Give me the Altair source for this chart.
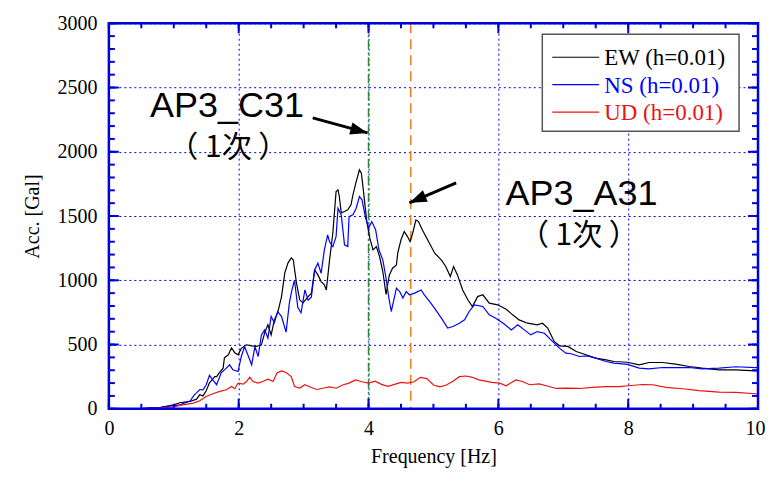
import altair as alt
import pandas as pd

# ---------------- data ----------------
ew_f = [0.45, 0.6, 0.8, 1.0, 1.09, 1.25, 1.35, 1.4, 1.45, 1.5, 1.55, 1.6, 1.63, 1.66, 1.7, 1.76, 1.78, 1.84,
        1.89, 1.94, 1.99, 2.04, 2.12, 2.2, 2.27, 2.35, 2.4, 2.45, 2.5, 2.55, 2.6, 2.66, 2.71, 2.76, 2.81, 2.84,
        2.89, 2.94, 2.99, 3.07, 3.12, 3.17, 3.22, 3.27, 3.32, 3.35, 3.4, 3.45, 3.5, 3.53, 3.55, 3.58, 3.63, 3.68,
        3.73, 3.76, 3.81, 3.86, 3.89, 3.92, 3.97, 4.02, 4.07, 4.12, 4.17, 4.22, 4.27, 4.32, 4.37, 4.43, 4.45,
        4.5, 4.55, 4.6, 4.64, 4.68, 4.73, 4.77, 4.83, 4.91, 5.02, 5.12, 5.19, 5.26, 5.31, 5.37, 5.45, 5.53,
        5.6, 5.68, 5.76, 5.86, 5.99, 6.12, 6.22, 6.32, 6.45, 6.6, 6.68, 6.76, 6.86, 6.94, 7.07, 7.2, 7.35, 7.5,
        7.66, 7.78, 7.99, 8.17, 8.32, 8.53, 8.73, 8.94, 9.14, 9.4, 9.66, 9.96, 10.0]
ew_a = [0, 5, 12, 30, 47, 57, 75, 109, 100, 140, 202, 230, 251, 250, 280, 316, 397, 420,
        474, 435, 420, 470, 498, 490, 485, 498, 591, 653, 575, 692, 747, 873, 1058, 1136, 1174, 1160,
        980, 848, 824, 873, 900, 1081, 1042, 990, 964, 925, 1159, 1366, 1690, 1704, 1652, 1525, 1535, 1548,
        1587, 1665, 1768, 1859, 1833, 1704, 1470, 1328, 1237, 1262, 1185, 1068, 890, 1040, 1094, 1120, 1211,
        1315, 1379, 1340, 1301, 1366, 1470, 1457, 1392, 1315, 1211, 1159, 1107, 1029, 1107, 1042, 925, 848,
        796, 873, 887, 822, 809, 775, 731, 692, 666, 653, 666, 628, 524, 490, 485, 446, 420, 394,
        381, 368, 362, 342, 360, 360, 347, 329, 316, 303, 303, 295, 295]

ns_f = [0.45, 0.6, 0.8, 1.0, 1.09, 1.25, 1.32, 1.35, 1.4, 1.45, 1.5, 1.55, 1.6, 1.66, 1.73, 1.81, 1.86, 1.91,
        1.99, 2.04, 2.09, 2.14, 2.2, 2.25, 2.3, 2.35, 2.4, 2.45, 2.5, 2.55, 2.6, 2.66, 2.73, 2.78, 2.82, 2.86,
        2.91, 2.96, 3.02, 3.07, 3.12, 3.17, 3.22, 3.27, 3.32, 3.37, 3.4, 3.45, 3.5, 3.53, 3.58, 3.63, 3.68,
        3.7, 3.76, 3.81, 3.86, 3.9, 3.95, 4.0, 4.05, 4.11, 4.16, 4.22, 4.27, 4.31, 4.35, 4.39, 4.43, 4.48,
        4.53, 4.58, 4.63, 4.71, 4.81, 4.86, 4.96, 5.07, 5.14, 5.22, 5.3, 5.4, 5.48, 5.55, 5.63, 5.76, 5.86,
        5.96, 6.09, 6.2, 6.3, 6.4, 6.5, 6.6, 6.71, 6.81, 6.94, 7.04, 7.12, 7.25, 7.37, 7.5, 7.66, 7.78, 7.99,
        8.17, 8.32, 8.53, 8.73, 8.94, 9.14, 9.4, 9.66, 9.96, 10.0]
ns_a = [0, 5, 12, 25, 30, 60, 110, 124, 150, 148, 187, 260, 225, 187, 280, 316, 342, 303,
        290, 407, 484, 420, 342, 484, 407, 575, 614, 550, 718, 670, 757, 718, 596, 822, 925, 1000,
        790, 747, 925, 845, 870, 1081, 1133, 1055, 1237, 1354, 1300, 1262, 1340, 1561, 1509, 1276, 1262,
        1496, 1509, 1561, 1652, 1626, 1496, 1405, 1457, 1392, 1237, 1159, 1016, 873, 757, 848, 939, 912,
        861, 912, 887, 900, 925, 887, 822, 744, 692, 628, 640, 666, 692, 757, 809, 796, 731,
        705, 660, 614, 653, 614, 575, 601, 588, 536, 472, 433, 428, 407, 412, 394, 368, 355, 345,
        316, 311, 321, 321, 321, 311, 316, 327, 321, 321]

ud_f = [0.5, 0.8, 1.0, 1.09, 1.3, 1.4, 1.5, 1.6, 1.71, 1.81, 1.89, 1.94, 1.99, 2.07, 2.12, 2.17, 2.22, 2.3,
        2.37, 2.45, 2.53, 2.59, 2.66, 2.73, 2.81, 2.86, 2.94, 3.02, 3.1, 3.2, 3.3, 3.4, 3.5, 3.6, 3.7, 3.8,
        3.9, 4.0, 4.1, 4.2, 4.3, 4.4, 4.5, 4.6, 4.7, 4.8, 4.9, 5.0, 5.1, 5.2, 5.3, 5.4, 5.5, 5.6, 5.7, 5.8,
        5.9, 6.02, 6.12, 6.27, 6.37, 6.48, 6.63, 6.78, 6.89, 7.04, 7.25, 7.45, 7.66, 7.86, 8.0, 8.22, 8.38,
        8.58, 8.84, 9.09, 9.4, 9.66, 9.96, 10.0]
ud_a = [0, 5, 15, 26, 44, 62, 96, 117, 135, 148, 173, 156, 200, 192, 212, 246, 212, 200,
        212, 231, 212, 278, 295, 282, 251, 173, 161, 187, 170, 150, 160, 170, 160, 185, 200, 225,
        210, 200, 215, 190, 175, 190, 205, 200, 210, 245, 235, 185, 170, 185, 215, 250, 255, 245, 225, 215,
        205, 200, 179, 225, 212, 187, 194, 173, 158, 161, 158, 166, 173, 173, 179, 189, 187,
        166, 156, 142, 130, 127, 117, 117]

series_names = ["EW (h=0.01)", "NS (h=0.01)", "UD (h=0.01)"]
series_colors = ["#000000", "#0000ff", "#ee1111"]

x_major = [0, 2, 4, 6, 8, 10]
x_minor = [0.5 * i for i in range(21)]
y_major = [0, 500, 1000, 1500, 2000, 2500, 3000]
y_minor = list(range(0, 3001, 100))

marker_f = [4.0, 4.65]          # green dash-dot, orange dashed
marker_colors = ["#2a8a3a", "#ff7a10"]

ann_label = ["AP3_C31", "AP3_A31"]
ann_label_f = [1.82, 7.28]
ann_label_a = [2272, 1587]
ann_sub = ["\uff08 1\u6b21 \uff09", "\uff08 1\u6b21 \uff09"]
ann_sub_f = [1.84, 7.24]
ann_sub_a = [2031, 1346]

arrow_f = [3.14, 5.35]
arrow_a = [2264, 1758]
arrow_f2 = [3.985, 4.63]
arrow_a2 = [2147, 1603]
arrow_angle = [15, 157]

# ---------------- layout ----------------
W, H = 650, 386
AXIS = "#0000dd"
SERIF = "Liberation Serif"
SANS = "Liberation Sans, Noto Sans CJK JP"

xs = alt.Scale(domain=[0, 10], nice=False, zero=False)
ys = alt.Scale(domain=[0, 3000], nice=False, zero=False)

common = dict(ticks=False, domain=False, labelFont=SERIF, labelFontSize=20, labelColor="black",
              titleFont=SERIF, titleFontSize=20, titleFontWeight="normal", titleColor="black",
              grid=True, gridColor="#0000ff", gridDash=[2, 3], gridWidth=1, labelFlush=False, format="d")
x_axis = alt.Axis(values=x_major, title="Frequency [Hz]", labelPadding=10, titlePadding=8,
                  labelAlign={"condition": {"test": "datum.value == 10", "value": "right"}, "value": "center"},
                  labelOffset={"condition": {"test": "datum.value == 10", "value": 7}, "value": 0},
                  **common)
y_axis = alt.Axis(values=y_major, title="Acc. [Gal]", labelPadding=12, titlePadding=14, **common)

dummy = pd.DataFrame({"k": [0]})

layers = []

# base (axes + grid)
base = alt.Chart(pd.DataFrame({"f": [0, 10], "a": [0, 3000]})).mark_point(opacity=0).encode(
    x=alt.X("f:Q", scale=xs, axis=x_axis),
    y=alt.Y("a:Q", scale=ys, axis=y_axis),
)
layers.append(base)

# marker lines
for fv, col, dash in zip(marker_f, marker_colors, [[9, 3, 2, 3], [10, 6]]):
    layers.append(
        alt.Chart(pd.DataFrame({"f": [fv]})).mark_rule(color=col, strokeWidth=1.5, strokeDash=dash).encode(
            x=alt.X("f:Q", scale=xs), y=alt.value(0), y2=alt.value(H))
    )

# series
for name, col, fs, as_ in zip(series_names, series_colors, [ew_f, ns_f, ud_f], [ew_a, ns_a, ud_a]):
    df = pd.DataFrame({"f": fs, "a": as_, "i": range(len(fs))})
    layers.append(
        alt.Chart(df).mark_line(color=col, strokeWidth=1.2).encode(
            x=alt.X("f:Q", scale=xs), y=alt.Y("a:Q", scale=ys), order="i:Q")
    )

# inward ticks on all four sides
def xticks(vals, L):
    d = pd.DataFrame({"f": vals})
    return [
        alt.Chart(d).mark_rule(color=AXIS, strokeWidth=2).encode(
            x=alt.X("f:Q", scale=xs), y=alt.value(H), y2=alt.value(H - L)),
        alt.Chart(d).mark_rule(color=AXIS, strokeWidth=2).encode(
            x=alt.X("f:Q", scale=xs), y=alt.value(0), y2=alt.value(L)),
    ]

def yticks(vals, L):
    d = pd.DataFrame({"a": vals})
    return [
        alt.Chart(d).mark_rule(color=AXIS, strokeWidth=2).encode(
            y=alt.Y("a:Q", scale=ys), x=alt.value(0), x2=alt.value(L)),
        alt.Chart(d).mark_rule(color=AXIS, strokeWidth=2).encode(
            y=alt.Y("a:Q", scale=ys), x=alt.value(W), x2=alt.value(W - L)),
    ]

layers += xticks(x_minor, 5) + xticks(x_major, 10) + yticks(y_minor, 6) + yticks(y_major, 10)

# frame
layers.append(
    alt.Chart(dummy).mark_rect(fill=None, stroke=AXIS, strokeWidth=2.5).encode(
        x=alt.value(0), x2=alt.value(W), y=alt.value(0), y2=alt.value(H))
)

# annotations
lab_df = pd.DataFrame({"f": ann_label_f, "a": ann_label_a, "t": ann_label})
layers.append(
    alt.Chart(lab_df).mark_text(font=SANS, fontSize=36, color="black", baseline="alphabetic").encode(
        x=alt.X("f:Q", scale=xs), y=alt.Y("a:Q", scale=ys), text="t:N")
)
sub_df = pd.DataFrame({"f": ann_sub_f, "a": ann_sub_a, "t": ann_sub})
layers.append(
    alt.Chart(sub_df).mark_text(font="Noto Sans CJK JP", fontSize=30, color="black", baseline="middle").encode(
        x=alt.X("f:Q", scale=xs), y=alt.Y("a:Q", scale=ys), text="t:N")
)

arr_df = pd.DataFrame({"f": arrow_f, "a": arrow_a, "f2": arrow_f2, "a2": arrow_a2, "ang": arrow_angle})
layers.append(
    alt.Chart(arr_df).mark_rule(color="black", strokeWidth=3).encode(
        x=alt.X("f:Q", scale=xs), y=alt.Y("a:Q", scale=ys), x2="f2:Q", y2="a2:Q")
)
layers.append(
    alt.Chart(arr_df).mark_point(shape="M0,0L-1,-0.36L-1,0.36Z", filled=True, color="black",
                                 opacity=1, size=1200).encode(
        x=alt.X("f2:Q", scale=xs), y=alt.Y("a2:Q", scale=ys), angle=alt.Angle("ang:Q", scale=None))
)

# legend (manual, labels coloured like their lines)
LX0, LX1, LY0, LY1 = 434, 631, 11, 108
layers.append(
    alt.Chart(dummy).mark_rect(fill="white", stroke="#555555", strokeWidth=1.5).encode(
        x=alt.value(LX0), x2=alt.value(LX1), y=alt.value(LY0), y2=alt.value(LY1))
)
for k, (name, col) in enumerate(zip(series_names, series_colors)):
    yy = 34 + 27.5 * k
    layers.append(
        alt.Chart(dummy).mark_rule(color=col, strokeWidth=1.2).encode(
            x=alt.value(444), x2=alt.value(491), y=alt.value(yy))
    )
    layers.append(
        alt.Chart(dummy).mark_text(font=SERIF, fontSize=23, color=col, align="left", baseline="middle").encode(
            x=alt.value(496), y=alt.value(yy + 1), text=alt.value(name))
    )

chart = alt.layer(*layers).properties(
    width=W, height=H,
    autosize=alt.AutoSizeParams(type="none"),
    padding={"left": 101, "top": 15, "right": 8, "bottom": 60},
).configure_view(stroke=None).configure(background="white")

chart.save("out.html", embed_options={"renderer": "svg", "actions": False})
